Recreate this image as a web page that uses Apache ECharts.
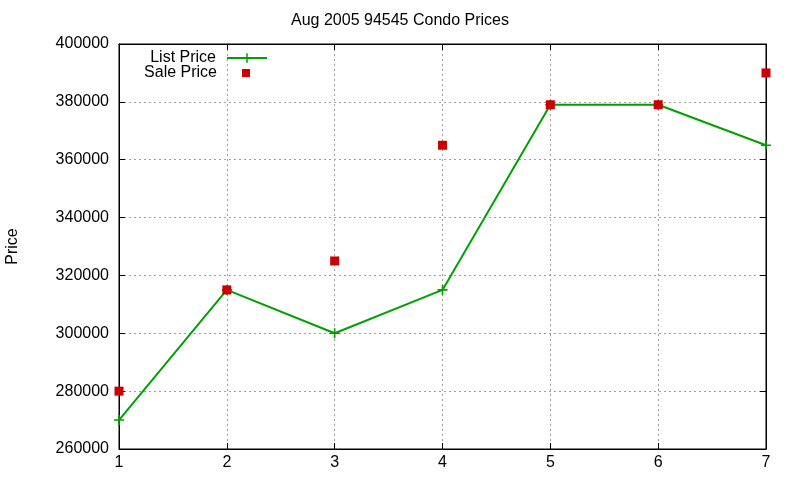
<!DOCTYPE html>
<html><head><meta charset="utf-8">
<script src="https://cdn.jsdelivr.net/npm/echarts@6/dist/echarts.min.js"></script>
<style>html,body{margin:0;padding:0;background:#fff}#c{width:800px;height:480px}</style>
</head><body><div id="c"></div>
<script>
const xValues = [1, 2, 3, 4, 5, 6, 7];
const listPrice = [270000, 315000, 300000, 315000, 379000, 379000, 365000];
const salePrice = [280000, 315000, 325000, 365000, 379000, 379000, 390000];
const titleText = 'Aug 2005 94545 Condo Prices';
const yName = 'Price';

const font = 'Liberation Sans, Arial, sans-serif';
const fs = 16;
const plus = 'path://M4.2,0H5.8V4.2H10V5.8H5.8V10H4.2V5.8H0V4.2H4.2Z';
const chart = echarts.init(document.getElementById('c'), null, {renderer: 'canvas'});
const grid = {left: 119, right: 34, top: 44, bottom: 31, show: true, borderColor: '#000', borderWidth: 1, outerBoundsMode: 'none', containLabel: false};
const split = {show: true, lineStyle: {color: '#a0a0a0', type: [2, 3], width: 1}};
chart.setOption({
  animation: false,
  title: {text: titleText, left: 'center', top: 13, padding: 0, textStyle: {fontFamily: font, fontSize: fs, fontWeight: 'normal', color: '#000'}},
  grid: grid,
  legend: [
    {data: ['List Price'], right: 532, top: 50, align: 'right', itemWidth: 40, itemHeight: 12, padding: 0,
     textStyle: {fontFamily: font, fontSize: fs, color: '#000', padding: [0, 6, 0, 0]}},
    {data: [{name: 'Sale Price', icon: 'rect'}], right: 550, top: 65, align: 'right', itemWidth: 8, itemHeight: 8, padding: 0,
     textStyle: {fontFamily: font, fontSize: fs, color: '#000', padding: [0, 20, 0, 0]}}
  ],
  xAxis: [
    {type: 'value', min: 1, max: 7, interval: 1, axisLine: {lineStyle: {color: '#000'}}, axisTick: {inside: true, length: 6, lineStyle: {color: '#000'}},
     axisLabel: {fontFamily: font, fontSize: fs, color: '#000', margin: 6}, splitLine: split},
    {type: 'value', position: 'top', min: 1, max: 7, interval: 1, axisLine: {lineStyle: {color: '#000'}}, axisTick: {inside: true, length: 6, lineStyle: {color: '#000'}},
     axisLabel: {show: false}, splitLine: {show: false}}
  ],
  yAxis: [
    {type: 'value', min: 260000, max: 400000, interval: 20000, name: yName, nameLocation: 'middle', nameGap: 98, nameRotate: 90,
     nameTextStyle: {fontFamily: font, fontSize: fs, color: '#000'},
     axisLine: {show: true, lineStyle: {color: '#000'}}, axisTick: {show: true, inside: true, length: 6, lineStyle: {color: '#000'}},
     axisLabel: {fontFamily: font, fontSize: fs, color: '#000', margin: 10, formatter: v => String(v)}, splitLine: split},
    {type: 'value', position: 'right', min: 260000, max: 400000, interval: 20000,
     axisLine: {show: true, lineStyle: {color: '#000'}}, axisTick: {show: true, inside: true, length: 6, lineStyle: {color: '#000'}},
     axisLabel: {show: false}, splitLine: {show: false}}
  ],
  series: [
    {name: 'List Price', type: 'line', data: xValues.map((x, i) => [x, listPrice[i]]), symbol: plus, symbolSize: 10,
     lineStyle: {color: '#00a000', width: 2}, itemStyle: {color: '#00a000'}, z: 3},
    {name: 'Sale Price', type: 'scatter', data: xValues.map((x, i) => [x, salePrice[i]]), symbol: 'rect', symbolSize: 9,
     itemStyle: {color: '#cc0000', opacity: 1}, z: 4}
  ]
});
</script></body></html>
